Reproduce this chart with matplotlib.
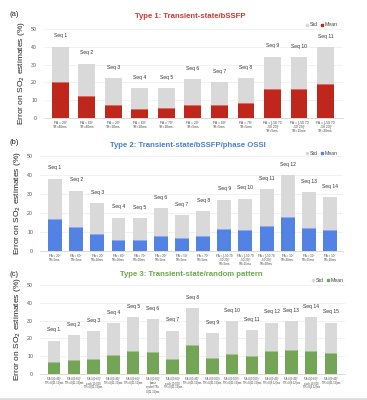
import matplotlib
matplotlib.use("Agg")
import matplotlib.pyplot as plt
from matplotlib.lines import Line2D
from matplotlib.patches import Rectangle

plt.rcParams['font.family'] = ['Liberation Sans', 'DejaVu Sans']

# ---------------- data ----------------
seq_a = [f"Seq {i}" for i in range(1, 12)]
mean_a = [20.0, 12.4, 7.3, 5.2, 5.4, 7.3, 7.5, 8.4, 16.5, 16.1, 19.1]
total_a = [40.0, 30.5, 22.5, 16.9, 16.9, 21.9, 20.2, 22.3, 34.5, 34.3, 39.7]
labels_a = ["FA = 20°\nTR=40ms", "FA = 60°\nTR=40ms", "FA = 20°\nTR=10ms",
            "FA = 60°\nTR=10ms", "FA = 70°\nTR=10ms", "FA = 20°\nTR=5ms",
            "FA = 60°\nTR=5ms", "FA = 70°\nTR=5ms",
            "FA = [-50 70\n-50 20]°\nTR=5ms", "FA = [-50 70\n-50 20]°\nTR=15ms",
            "FA = [-50 70\n-50 20]°\nTR=30ms"]

seq_b = [f"Seq {i}" for i in range(1, 15)]
mean_b = [16.8, 12.7, 8.8, 5.6, 6.0, 8.1, 7.0, 8.1, 11.8, 10.9, 13.2, 18.0, 12.3, 10.9]
total_b = [38.0, 31.7, 25.2, 17.6, 17.4, 22.5, 19.0, 20.8, 27.1, 27.5, 32.7, 40.0, 30.8, 28.3]
labels_b = ["FA = 20°\nTR=5ms", "FA = 60°\nTR=5ms", "FA = 20°\nTR=10ms",
            "FA = 60°\nTR=10ms", "FA = 70°\nTR=10ms", "FA = 20°\nTR=5ms",
            "FA = 50°\nTR=5ms", "FA = 70°\nTR=5ms",
            "FA = [-50 70\n-50 20]°\nTR=5ms", "FA = [-50 70\n-50 20]°\nTR=15ms",
            "FA = [-50 70\n-50 20]°\nTR=30ms", "FA = 10°\nTR=30ms",
            "FA = 10°\nTR=15ms", "FA = 10°\nTR=10ms"]

seq_c = [f"Seq {i}" for i in range(1, 16)]
mean_c = [6.8, 7.7, 8.3, 10.5, 12.8, 12.4, 8.3, 16.5, 9.0, 11.5, 10.3, 12.8, 13.7, 13.0, 12.0]
total_c = [18.8, 21.8, 24.1, 28.6, 32.0, 30.8, 24.4, 36.8, 23.1, 29.5, 24.6, 28.9, 29.7, 31.8, 28.8]
labels_c = ["FA:U(0 40)°\nTR=U(11 12)ms", "FA:U(0 60)°\nTR=U(11 12)ms",
            "FA:U(0 60)°\neach 10,000\nTR=U(11 12)ms", "FA:U(0 40)°\nTR=U(11 12)ms",
            "FA:U(0 60)°\nTR=U(11 12)ms", "FA:U(0 60)°\nphase\ncycled TR=\nU(11 12)ms",
            "FA:U(0 60)°\neach 10,000\nTR=U(11 12)ms", "FA:U(0 40)°\nTR=U(11 12)ms",
            "FA:U(0 100)°\nTR=U(11 12)ms", "FA:U(0 100)°\nTR=U(11 12)ms",
            "FA:U(0 100)°\nTR=U(11 12)ms", "FA:U(0 45)°\nTR=U(6 12)ms",
            "FA:U(0 45)°\nTR=U(6 12)ms", "FA:U(0 60)°\neach 10,000\nTR=U(6 12)ms",
            "FA:U(0 40)°\nTR=U(11 12)ms"]

GRAY = "#d9d9d9"
RED = "#bf271d"
BLUE = "#5282e3"
GREEN = "#74a556"

W, H = 367, 400
fig = plt.figure(figsize=(W / 100, H / 100), dpi=100)


def px_axes(left, right, top, bottom):
    return fig.add_axes([left / W, 1 - bottom / H, (right - left) / W, (bottom - top) / H])


def panel(ax, seqs, means, totals, labels, color, xlim, width, xfs):
    x = list(range(len(seqs)))
    stds = [t - m for t, m in zip(totals, means)]
    ax.bar(x, means, width=width, color=color, zorder=3)
    ax.bar(x, stds, bottom=means, width=width, color=GRAY, zorder=3)
    for xi, m in zip(x, means):
        ax.plot([xi - width / 2, xi + width / 2], [m, m], color="white", lw=0.4, alpha=0.6, zorder=4)
    for xi, t, s in zip(x, totals, seqs):
        ax.annotate(s, (xi, t), xytext=(0, 6), textcoords="offset points",
                    ha="center", va="bottom", fontsize=3.6, color="#333333")
    ax.set_ylim(0, 50)
    ax.set_xlim(*xlim)
    ax.set_yticks([0, 10, 20, 30, 40, 50])
    ax.tick_params(axis="y", length=0, labelsize=3.8, labelcolor="#555555", pad=5)
    ax.set_xticks(x)
    ax.set_xticklabels(labels, fontsize=xfs, color="#444444", linespacing=1.1)
    ax.tick_params(axis="x", length=0, pad=2)
    ax.grid(axis="y", color="#ebebeb", lw=0.5, zorder=0)
    for sp in ["top", "right", "left"]:
        ax.spines[sp].set_visible(False)
    ax.spines["bottom"].set_color("#cccccc")
    ax.spines["bottom"].set_linewidth(0.5)
    ax.set_ylabel("Error on SO$_2$ estimates (%)", fontsize=6, color="#222222", labelpad=3)


def legend_items(x0, y, color):
    yf = 1 - y / H
    s = 2.2
    fig.add_artist(Rectangle((x0 / W, yf - s / 2 / H), s / W, s / H,
                             color=GRAY, transform=fig.transFigure))
    fig.text((x0 + 3.5) / W, yf, "Std", fontsize=3.8, color="#444444", ha="left", va="center")
    fig.add_artist(Rectangle(((x0 + 15) / W, yf - s / 2 / H), s / W, s / H,
                             color=color, transform=fig.transFigure))
    fig.text((x0 + 18.5) / W, yf, "Mean", fontsize=3.8, color="#444444", ha="left", va="center")


# Panel (a)
ax_a = px_axes(44, 343, 29, 118)
panel(ax_a, seq_a, mean_a, total_a, labels_a, RED, (-0.62, 10.66), 0.64, 2.4)
fig.text(9 / W, 1 - 15 / H, "(a)", fontsize=5.5, ha="left", va="center", color="#222222")
fig.text(190 / W, 1 - 17 / H, "Type 1: Transient-state/bSSFP", fontsize=5.6,
         fontweight="bold", color="#c93a32", ha="center", va="center")
legend_items(306, 25, RED)

# Panel (b)
ax_b = px_axes(40, 343, 156, 251)
panel(ax_b, seq_b, mean_b, total_b, labels_b, BLUE, (-0.71, 13.61), 0.66, 2.2)
fig.text(9 / W, 1 - 143 / H, "(b)", fontsize=5.5, ha="left", va="center", color="#222222")
fig.text(188 / W, 1 - 145 / H, "Type 2: Transient-state/bSSFP/phase OSSI", fontsize=5.6,
         fontweight="bold", color="#4a7fcf", ha="center", va="center")
legend_items(306, 153, BLUE)

# Panel (c)
ax_c = px_axes(40, 345, 285, 374)
panel(ax_c, seq_c, mean_c, total_c, labels_c, GREEN, (-0.71, 14.71), 0.63, 1.9)
fig.text(9 / W, 1 - 274 / H, "(c)", fontsize=5.5, ha="left", va="center", color="#222222")
fig.text(191 / W, 1 - 275 / H, "Type 3: Transient-state/random pattern", fontsize=5.6,
         fontweight="bold", color="#6aa84f", ha="center", va="center")
legend_items(312, 280, GREEN)

fig.add_artist(Line2D([0, 1], [1.5 / H, 1.5 / H], color="#dddddd", lw=2, transform=fig.transFigure))

fig.savefig("out.png", dpi=100)
